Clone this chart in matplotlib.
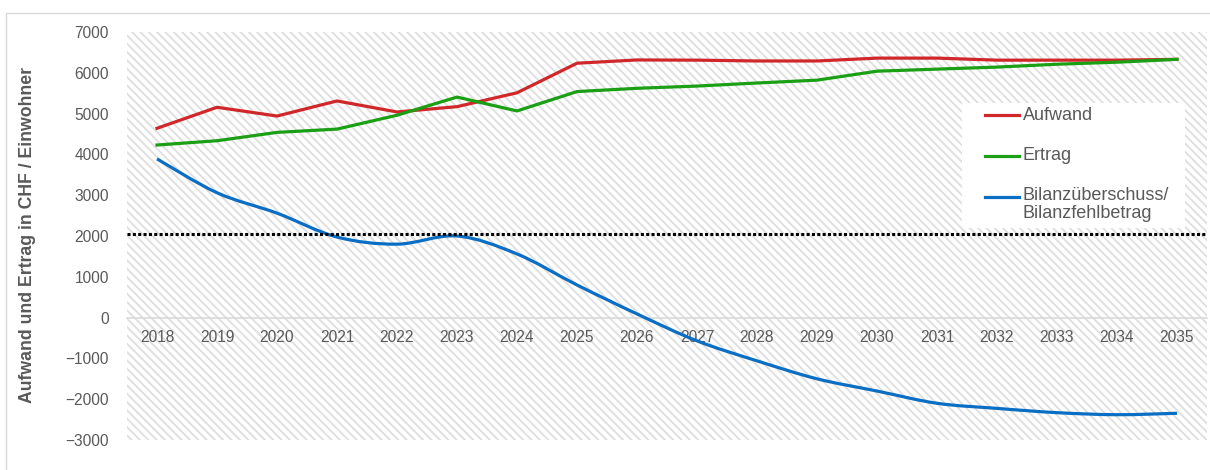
import numpy as np
import matplotlib
matplotlib.use("Agg")
import matplotlib.pyplot as plt
from matplotlib.path import Path
from matplotlib.patches import PathPatch, Rectangle
from matplotlib.lines import Line2D

plt.rcParams['font.family'] = ['Liberation Sans', 'DejaVu Sans']

# data (CHF per inhabitant)
years = [2018, 2019, 2020, 2021, 2022, 2023, 2024, 2025, 2026,
         2027, 2028, 2029, 2030, 2031, 2032, 2033, 2034, 2035]
aufwand = [4640, 5155, 4940, 5310, 5040, 5170, 5510, 6235, 6315,
           6310, 6290, 6290, 6360, 6360, 6310, 6310, 6310, 6330]
ertrag = [4230, 4335, 4540, 4620, 4960, 5405, 5065, 5540, 5620,
          5675, 5750, 5820, 6040, 6090, 6140, 6210, 6260, 6330]
bilanz = [3890, 3060, 2560, 1975, 1800, 2000, 1560, 800, 90,
          -570, -1060, -1500, -1800, -2100, -2225, -2330, -2380, -2345]
threshold = 2050

TXT = '#595959'
RED = '#d0282a'
GREEN = '#1b9f14'
BLUE = '#0a6fc4'


def smooth_path(xs, ys):
    # Catmull-Rom style bezier through the points (like a smoothed Excel line)
    pts = np.column_stack([xs, ys]).astype(float)
    ext = np.vstack([pts[0], pts, pts[-1]])
    verts = [pts[0]]
    codes = [Path.MOVETO]
    for i in range(len(pts) - 1):
        p0, p1, p2, p3 = ext[i], ext[i + 1], ext[i + 2], ext[i + 3]
        verts += [p1 + (p2 - p0) / 6.0, p2 - (p3 - p1) / 6.0, p2]
        codes += [Path.CURVE4] * 3
    return Path(verts, codes)


fig = plt.figure(figsize=(12.1, 4.7), dpi=100)
# outer frame
fig.patches.append(Rectangle((6 / 1210, -0.1), 1.2, 1.1 - 13 / 470,
                             transform=fig.transFigure, fill=False,
                             edgecolor='#d9d9d9', lw=1.0))

ax = fig.add_axes([127 / 1210, 1 - 440 / 470, (1207 - 127) / 1210, 408 / 470])
ax.patch.set_visible(False)
plt.rcParams['hatch.linewidth'] = 1.4
bg = Rectangle((0, 0), 1, 1, transform=ax.transAxes, facecolor='white',
               edgecolor='#e0e0e0', hatch='\\\\\\\\', lw=0, zorder=0)
ax.add_patch(bg)

x = np.arange(len(years))
ax.plot(x, aufwand, color=RED, lw=2.3, zorder=3, solid_joinstyle='round')
ax.plot(x, ertrag, color=GREEN, lw=2.3, zorder=3, solid_joinstyle='round')
ax.add_patch(PathPatch(smooth_path(x, bilanz), facecolor='none',
                       edgecolor=BLUE, lw=2.3, zorder=3))
ax.axhline(threshold, color='black', lw=2.2, linestyle=(0, (1, 0.75)), zorder=4)

ax.set_xlim(-0.5, len(years) - 0.5)
ax.set_ylim(-3000, 7000)
ax.set_yticks(np.arange(-3000, 7001, 1000))
ax.set_xticks(x)
ax.set_xticklabels([str(y) for y in years])

for s in ['top', 'right', 'left']:
    ax.spines[s].set_visible(False)
ax.spines['bottom'].set_position(('data', 0))
ax.spines['bottom'].set_color('#d9d9d9')
ax.spines['bottom'].set_linewidth(1.2)
ax.spines['bottom'].set_zorder(2)
ax.tick_params(axis='x', length=0, pad=9, labelsize=11.2, labelcolor=TXT)
ax.tick_params(axis='y', length=0, pad=13, labelsize=11.2, labelcolor=TXT)

fig.text(28 / 1210, 1 - 235 / 470, 'Aufwand und Ertrag in CHF / Einwohner',
         rotation=90, ha='center', va='center', fontsize=12.7,
         fontweight='bold', color=TXT)

# legend box drawn by hand so the two-line entry lines up like the original
def ax_x(px):
    return (px - 127) / 1080


def ax_y(py):
    return (440 - py) / 408


ax.add_patch(Rectangle((ax_x(962), ax_y(228)), ax_x(1185) - ax_x(962),
                       ax_y(103) - ax_y(228), transform=ax.transAxes,
                       facecolor='white', edgecolor='none', zorder=5))
entries = [('Aufwand', RED, 115), ('Ertrag', GREEN, 156),
           ('Bilanzüberschuss/\nBilanzfehlbetrag', BLUE, 197)]
for label, col, py in entries:
    ax.add_line(Line2D([ax_x(985), ax_x(1019)], [ax_y(py), ax_y(py)],
                       transform=ax.transAxes, color=col, lw=2.3, zorder=6))
    if '\n' in label:
        ax.text(ax_x(1023), ax_y(py - 10), label, transform=ax.transAxes,
                ha='left', va='top', fontsize=13, color=TXT, zorder=6,
                linespacing=1.1)
    else:
        ax.text(ax_x(1023), ax_y(py), label, transform=ax.transAxes,
                ha='left', va='center', fontsize=13, color=TXT, zorder=6)

fig.savefig('out.png', dpi=100)
